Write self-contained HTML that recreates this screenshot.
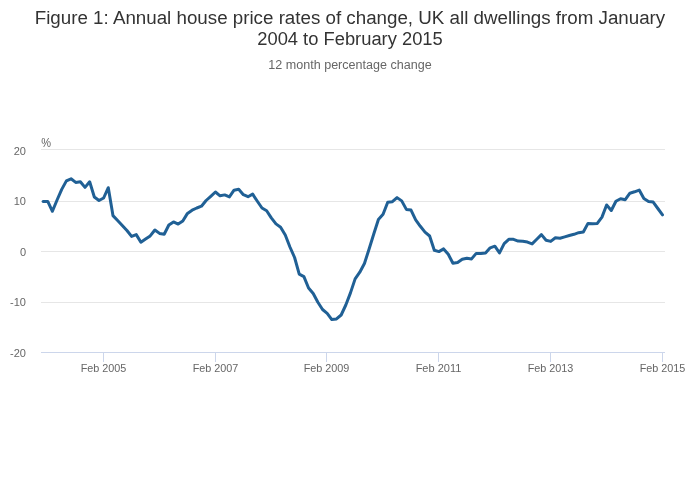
<!DOCTYPE html>
<html><head><meta charset="utf-8"><style>
html,body{margin:0;padding:0;background:#fff;}
body{width:700px;height:502px;overflow:hidden;position:relative;}
svg{position:absolute;left:0;top:0;font-family:"Liberation Sans",sans-serif;-webkit-font-smoothing:antialiased;will-change:transform;}
</style></head><body>
<svg width="700" height="502" viewBox="0 0 700 502">
<rect x="0" y="0" width="700" height="502" fill="#ffffff"/>
<text x="350" y="24" text-anchor="middle" font-size="18" fill="#333333" textLength="630.5" lengthAdjust="spacingAndGlyphs">Figure 1: Annual house price rates of change, UK all dwellings from January</text>
<text x="350" y="45" text-anchor="middle" font-size="18" fill="#333333" textLength="185.5" lengthAdjust="spacingAndGlyphs">2004 to February 2015</text>
<text x="350" y="69" text-anchor="middle" font-size="12" fill="#666666" textLength="163.5" lengthAdjust="spacingAndGlyphs">12 month percentage change</text>
<g stroke="#e6e6e6" stroke-width="1" fill="none">
<path d="M41 149.5 L665 149.5"/>
<path d="M41 201.5 L665 201.5"/>
<path d="M41 251.5 L665 251.5"/>
<path d="M41 302.5 L665 302.5"/>
</g>
<g stroke="#ccd6eb" stroke-width="1" fill="none">
<path d="M41 352.5 L665 352.5"/>
<path d="M103.5 352 L103.5 362"/>
<path d="M215.5 352 L215.5 362"/>
<path d="M326.5 352 L326.5 362"/>
<path d="M438.5 352 L438.5 362"/>
<path d="M550.5 352 L550.5 362"/>
<path d="M662.5 352 L662.5 362"/>
</g>
<g font-size="11" fill="#666666" text-anchor="end">
<text x="26" y="155">20</text>
<text x="26" y="205">10</text>
<text x="26" y="256">0</text>
<text x="26" y="306">-10</text>
<text x="26" y="357">-20</text>
</g>
<text x="41.3" y="147" font-size="12" fill="#666666" textLength="9.8" lengthAdjust="spacingAndGlyphs">%</text>
<g font-size="11" fill="#666666" text-anchor="middle">
<text x="103.5" y="372" textLength="45.7" lengthAdjust="spacingAndGlyphs">Feb 2005</text>
<text x="215.5" y="372" textLength="45.7" lengthAdjust="spacingAndGlyphs">Feb 2007</text>
<text x="326.5" y="372" textLength="45.7" lengthAdjust="spacingAndGlyphs">Feb 2009</text>
<text x="438.5" y="372" textLength="45.7" lengthAdjust="spacingAndGlyphs">Feb 2011</text>
<text x="550.5" y="372" textLength="45.7" lengthAdjust="spacingAndGlyphs">Feb 2013</text>
<text x="662.5" y="372" textLength="45.7" lengthAdjust="spacingAndGlyphs">Feb 2015</text>
</g>
<path d="M43.10 201.50 L47.76 201.40 L52.41 211.30 L57.07 200.00 L61.73 189.40 L66.39 180.90 L71.04 178.80 L75.70 182.40 L80.36 181.70 L85.01 187.40 L89.67 181.80 L94.33 197.00 L98.99 200.50 L103.64 198.00 L108.30 187.70 L112.96 215.60 L117.61 220.50 L122.27 225.60 L126.93 230.50 L131.59 236.40 L136.24 234.60 L140.90 242.20 L145.56 239.00 L150.21 235.90 L154.87 230.00 L159.53 233.40 L164.19 234.20 L168.84 225.00 L173.50 221.90 L178.16 224.10 L182.81 221.00 L187.47 213.40 L192.13 210.20 L196.79 208.00 L201.44 206.20 L206.10 200.50 L210.76 196.30 L215.41 192.00 L220.07 195.80 L224.73 194.90 L229.39 196.90 L234.04 190.20 L238.70 189.30 L243.36 194.70 L248.01 196.70 L252.67 194.10 L257.33 201.20 L261.99 208.00 L266.64 210.80 L271.30 217.90 L275.96 223.90 L280.61 227.20 L285.27 235.00 L289.93 247.00 L294.59 257.50 L299.24 274.20 L303.90 276.60 L308.56 288.00 L313.21 293.50 L317.87 302.30 L322.53 309.50 L327.19 313.30 L331.84 319.60 L336.50 318.90 L341.16 315.00 L345.81 305.00 L350.47 292.90 L355.13 278.90 L359.79 272.20 L364.44 263.50 L369.10 249.00 L373.76 234.00 L378.41 219.50 L383.07 214.30 L387.73 202.20 L392.39 201.70 L397.04 197.60 L401.70 200.90 L406.36 209.40 L411.01 210.10 L415.67 219.80 L420.33 226.30 L424.99 232.10 L429.64 236.00 L434.30 250.30 L438.96 251.60 L443.61 248.90 L448.27 254.30 L452.93 263.20 L457.59 262.50 L462.24 259.30 L466.90 258.20 L471.56 258.90 L476.21 253.40 L480.87 253.50 L485.53 253.00 L490.19 247.80 L494.84 246.20 L499.50 252.90 L504.16 243.60 L508.81 239.30 L513.47 239.30 L518.13 241.10 L522.79 241.30 L527.44 242.10 L532.10 243.90 L536.76 239.30 L541.41 234.60 L546.07 240.30 L550.73 241.40 L555.39 237.80 L560.04 238.20 L564.70 236.90 L569.36 235.50 L574.01 234.30 L578.67 232.70 L583.33 232.00 L587.99 223.40 L592.64 223.80 L597.30 223.40 L601.96 217.10 L606.61 205.00 L611.27 210.50 L615.93 201.30 L620.59 198.70 L625.24 199.70 L629.90 193.20 L634.56 191.80 L639.21 190.10 L643.87 198.50 L648.53 201.40 L653.19 202.10 L657.84 208.50 L662.50 214.80" fill="none" stroke="#206095" stroke-width="3" stroke-linejoin="round" stroke-linecap="round"/>
</svg>
</body></html>
